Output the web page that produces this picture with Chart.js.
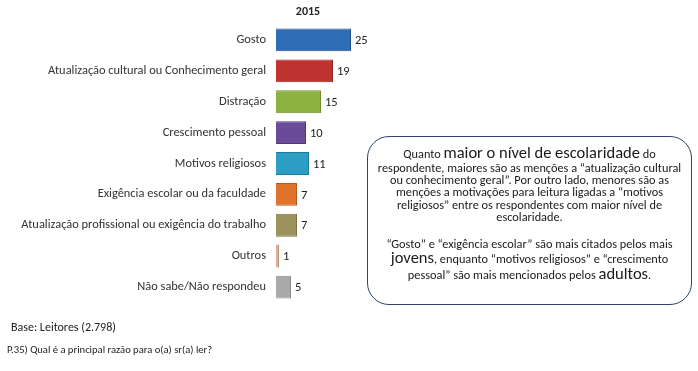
<!DOCTYPE html>
<html>
<head>
<meta charset="utf-8">
<script src="https://cdn.jsdelivr.net/npm/chart.js@4/dist/chart.umd.min.js"></script>
<style>
  html, body { margin: 0; padding: 0; background: #fff; }
  body { width: 698px; height: 371px; position: relative; overflow: hidden;
         font-family: Carlito, Lato, "Liberation Sans", sans-serif; color: #222; }
  #wrap { position: absolute; left: 0; top: 0; width: 698px; height: 371px; }
  #note {
    position: absolute; left: 367px; top: 136px; width: 323px; height: 160px;
    border: 1.5px solid #2d4568; border-radius: 22px; text-align: center;
    font-size: 12.3px; color: #1a1a1a; padding-top: 6.5px; box-sizing: content-box;
  }
  #note .l1 { line-height: 16px; }
  #note .pa { line-height: 12.4px; }
  #note .big { font-size: 16.5px; }
  #note .p2 { margin-top: 13.5px; }
  #note .l7 { line-height: 13px; }
  #note .l8, #note .l9 { line-height: 14px; }
  #base { position: absolute; left: 11px; top: 320px; font-size: 12px; color: #222; }
  #q { position: absolute; left: 7px; top: 343px; font-size: 10.6px; color: #222; }
</style>
</head>
<body>
<div id="wrap"><canvas id="chart" width="698" height="371"></canvas></div>
<div id="note">
  <div class="l1">Quanto <span class="big">maior o nível de escolaridade</span> do</div>
  <div class="pa">respondente, maiores são as menções a “atualização cultural</div>
  <div class="pa">ou conhecimento geral”. Por outro lado, menores são as</div>
  <div class="pa">menções a motivações para leitura ligadas a “motivos</div>
  <div class="pa">religiosos” entre os respondentes com maior nível de</div>
  <div class="pa">escolaridade.</div>
  <div class="p2 l7">“Gosto” e “exigência escolar” são mais citados pelos mais</div>
  <div class="l8"><span class="big">jovens</span>, enquanto “motivos religiosos” e “crescimento</div>
  <div class="l9">pessoal” são mais mencionados pelos <span class="big">adultos</span>.</div>
</div>
<div id="base">Base: Leitores (2.798)</div>
<div id="q">P.35) Qual é a principal razão para o(a) sr(a) ler?</div>
<script>
const categories = [
  'Gosto',
  'Atualização cultural ou Conhecimento geral',
  'Distração',
  'Crescimento pessoal',
  'Motivos religiosos',
  'Exigência escolar ou da faculdade',
  'Atualização profissional ou exigência do trabalho',
  'Outros',
  'Não sabe/Não respondeu'
];
const values2015 = [25, 19, 15, 10, 11, 7, 7, 1, 5];
const seriesName = '2015';
const barColors = ['#2f6db6', '#bf3431', '#8db23f', '#6a4b9a', '#2c9ec3', '#e0722b', '#9c925b', '#ddb09d', '#a9a9a9'];
const barBorders = ['#22528c', '#962624', '#6f8c30', '#503874', '#21799a', '#b4591f', '#7b7346', '#c08f7c', '#8c8c8c'];

const FONT = 'Carlito, Lato, "Liberation Sans", sans-serif';

// value labels next to each bar + the "2015" heading
const labelPlugin = {
  id: 'labels',
  afterDatasetsDraw(chart) {
    const ctx = chart.ctx;
    const meta = chart.getDatasetMeta(0);
    ctx.save();
    ctx.fillStyle = '#222';
    ctx.font = '12.5px ' + FONT;
    ctx.textAlign = 'left';
    ctx.textBaseline = 'middle';
    meta.data.forEach((bar, i) => {
      ctx.fillText(String(values2015[i]), bar.x + 4, bar.y + 1);
    });
    ctx.font = 'bold 12px ' + FONT;
    ctx.textAlign = 'center';
    ctx.fillText(seriesName, 308, 12);
    ctx.restore();
  }
};

new Chart(document.getElementById('chart'), {
  type: 'bar',
  data: {
    labels: categories,
    datasets: [{
      label: seriesName,
      data: values2015,
      backgroundColor: barColors,
      borderColor: barBorders,
      borderWidth: 1,
      categoryPercentage: 1,
      barPercentage: 0.74
    }]
  },
  options: {
    indexAxis: 'y',
    responsive: false,
    animation: false,
    layout: { padding: { left: 0, right: 332, top: 24.5, bottom: 68.5 } },
    plugins: { legend: { display: false }, tooltip: { enabled: false }, title: { display: false } },
    scales: {
      x: { display: false, min: 0, max: 30 },
      y: {
        afterFit(scale) { scale.width = 276; },
        grid: { display: false, drawTicks: false },
        border: { display: false },
        ticks: { color: '#333', padding: 10, font: { family: FONT, size: 12.4 } }
      }
    }
  },
  plugins: [labelPlugin]
});
</script>
</body>
</html>
